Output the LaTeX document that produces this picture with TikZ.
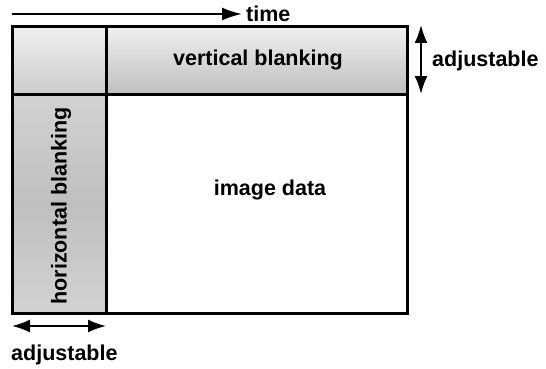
\documentclass[tikz,border=0pt]{standalone}
\usepackage{fontspec}
\setmainfont{Liberation Sans}
\usetikzlibrary{arrows.meta}
\begin{document}
\begin{tikzpicture}[x=1pt,y=-1pt,
  lbl/.style={font=\bfseries\fontsize{21.5}{24}\selectfont, inner sep=0pt},
  frame/.style={line width=3pt},
  arr/.style={line width=2pt, -{Latex[length=20pt,width=13pt]}},
  darr/.style={line width=2pt, {Latex[length=18pt,width=13pt]}-{Latex[length=18pt,width=13pt]}}]
\useasboundingbox (0,0) rectangle (546,369);
% shaded regions
\shade[top color=gray!12, bottom color=gray!50] (106,27) rectangle (407,94);
\shade[top color=gray!12, bottom color=gray!40] (12,27) rectangle (106,94);
\shade[top color=gray!35, bottom color=gray!35, middle color=gray!50] (12,94) rectangle (106,313);
% frame
\draw[frame] (12,27) rectangle (407,313);
\draw[frame] (106,27) -- (106,313);
\draw[frame] (12,94) -- (407,94);
% labels
\node[lbl] (vb) at (258,60) {vertical blanking};
\node[lbl, rotate=90] (hb) at (61,206) {horizontal blanking};
\node[lbl] (img) at (270,190) {image data};
% time arrow
\coordinate (t0) at (12,14);
\node[lbl, anchor=west] (time) at (246,14) {time};
\draw[arr] (t0) -- ([xshift=-4pt]time.west);
% right adjustable
\coordinate (r0) at (421,25);
\coordinate (r1) at (421,94);
\draw[darr] (r0) -- (r1);
\node[lbl, anchor=west] (adjR) at (432,61) {adjustable};
% bottom adjustable
\coordinate (b0) at (12,326);
\coordinate (b1) at (106,326);
\draw[darr] (b0) -- (b1);
\node[lbl, anchor=west] (adjB) at (11,355) {adjustable};
\end{tikzpicture}
\end{document}
